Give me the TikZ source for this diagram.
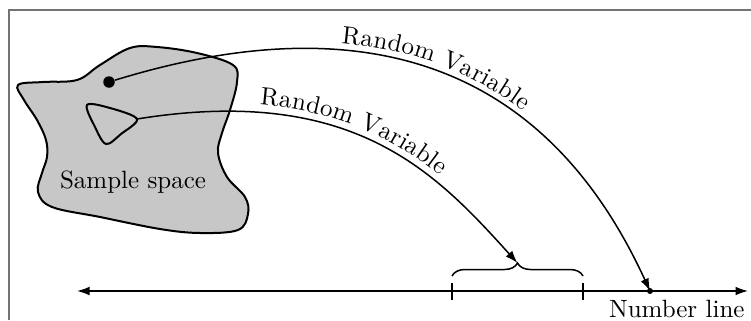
\documentclass[tikz,border=0pt]{standalone}
\usetikzlibrary{arrows.meta,decorations.text,decorations.pathreplacing}
\begin{document}
\begin{tikzpicture}[x=0.4pt,y=-0.4pt,
  frame/.style={draw=black!55,line width=0.6pt},
  region/.style={draw=black,fill=black!22,line width=0.8pt},
  rvarrow/.style={draw=black,line width=0.6pt,-{Latex[length=5pt,width=3.5pt]}},
  rvtext/.style={decorate,decoration={text along path,text={Random Variable},raise=3pt,text align={left indent=#1}}},
  numline/.style={draw=black,line width=0.6pt,{Latex[length=5pt,width=3.5pt]}-{Latex[length=5pt,width=3.5pt]}},
  tick/.style={draw=black,line width=0.5pt},
  lbl/.style={font=\normalsize,inner sep=0pt}]
\useasboundingbox (0,0) rectangle (751,320);
% frame
\draw[frame] (9,320) -- (9,10) -- (751,10);
% sample space
\path[region] plot[smooth cycle,tension=0.6] coordinates {
 (18,85) (43,82) (77,80) (100,65) (130,48) (157,47) (197,53) (233,65) (237,82)
 (230,110) (222,133) (218,153) (227,177) (245,197) (248,214) (238,230) (200,233)
 (160,229) (100,217) (52,207) (38,192) (42,173) (47,157) (46,140) (37,120) (24,100)};
\path[region] plot[smooth cycle,tension=0.55] coordinates {
 (87,105) (110,108) (137,119) (121,134) (106,144) (95,127)};
\coordinate (tri) at (137,119);
\node[circle,fill=black,inner sep=0pt,minimum size=4.6pt] (pt) at (109,82) {};
\node[lbl] (ss) at (133,182) {Sample space};
% number line
\coordinate (nlL) at (77,291);
\coordinate (nlR) at (748,291);
\draw[numline] (nlL) -- (nlR);
\node[lbl,anchor=north east] (nlt) at (745,300) {Number line};
\coordinate (ta) at (452,283); \coordinate (tab) at (452,300);
\coordinate (tb) at (583,283); \coordinate (tbb) at (583,300);
\draw[tick] (ta) -- (tab);
\draw[tick] (tb) -- (tbb);
\coordinate (bl) at (452,276); \coordinate (br) at (583,276);
\draw[line width=0.6pt,decorate,decoration={brace,amplitude=5.2pt}] (bl) -- (br);
\coordinate (btip) at (517.5,263);
\node[circle,fill=black,inner sep=0pt,minimum size=2.4pt] (val) at (650,291) {};
% random variable arrows
\draw[rvarrow] (pt) .. controls (405,-9) and (562,99) .. (val.center);
\path[rvtext=94pt] (pt.center) .. controls (405,-9) and (562,99) .. (val.center);
\draw[rvarrow] (tri) .. controls (354,84) and (436,173) .. (btip);
\path[rvtext=49pt] (tri) .. controls (354,84) and (436,173) .. (btip);
\end{tikzpicture}
\end{document}
